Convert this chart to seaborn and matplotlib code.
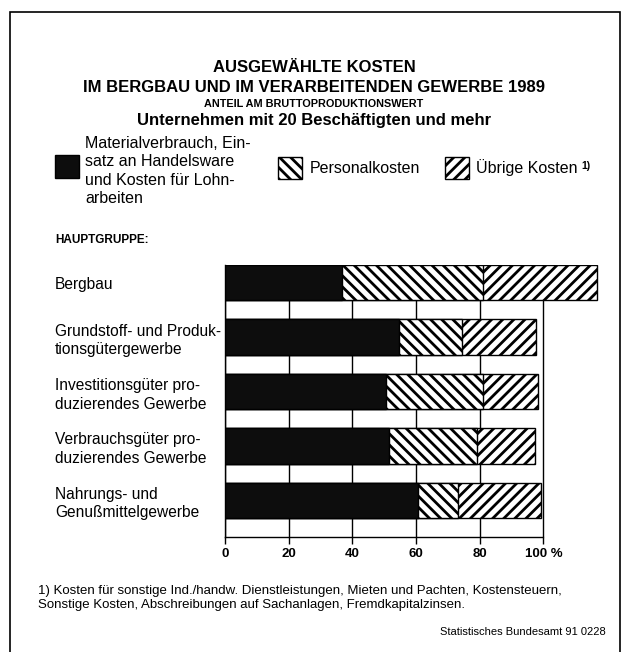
import numpy as np
import pandas as pd
import matplotlib
matplotlib.use('Agg')
import matplotlib.pyplot as plt
import seaborn as sns
from matplotlib.patches import Rectangle

sns.set_theme(style='white')
plt.rcParams['font.family'] = ['Liberation Sans', 'DejaVu Sans']
plt.rcParams['text.color'] = 'black'
plt.rcParams['hatch.linewidth'] = 2.0
plt.rcParams['hatch.color'] = 'black'

# Anteil am Bruttoproduktionswert in %
categories = ['Bergbau',
              'Grundstoff- und Produk-\ntionsgütergewerbe',
              'Investitionsgüter pro-\nduzierendes Gewerbe',
              'Verbrauchsgüter pro-\nduzierendes Gewerbe',
              'Nahrungs- und\nGenußmittelgewerbe']
material = [36.7, 54.8, 50.6, 51.4, 60.5]
personal = [44.3, 19.6, 30.4, 27.7, 12.7]
uebrige = [35.9, 23.4, 17.3, 18.4, 26.1]
xticks = [0, 20, 40, 60, 80, 100]
xticklabels = ['0', '20', '40', '60', '80', '100 %']

df = pd.DataFrame({'gruppe': categories, 'material': material,
                   'personal': personal, 'uebrige': uebrige})
df['bis_personal'] = df['material'] + df['personal']
df['gesamt'] = df['bis_personal'] + df['uebrige']

W, H = 628, 652
fig = plt.figure(figsize=(W / 100, H / 100), dpi=100)
fig.patch.set_facecolor('white')


def px(x, y):
    return x / W, 1 - y / H


ax = fig.add_axes([225 / W, 1 - 537 / H, (607 - 225) / W, (537 - 265) / H])

# stacked bars: draw the totals first, then cover with the shorter layers
layers = [('gesamt', 'white', '///'),
          ('bis_personal', 'white', '\\\\\\'),
          ('material', '#0d0d0d', None)]
for col, face, hatch in layers:
    n0 = len(ax.patches)
    sns.barplot(data=df, x=col, y='gruppe', orient='h', color=face, saturation=1,
                width=0.65, edgecolor='black', linewidth=1, ax=ax, zorder=3)
    if hatch:
        for p in ax.patches[n0:]:
            p.set_hatch(hatch)

ax.set_xlim(0, 120)
ax.set_ylim(4.675, -0.325)
ax.set_xlabel('')
ax.set_ylabel('')
ax.set_axisbelow(True)
ax.set_xticks(xticks, xticklabels)
ax.xaxis.grid(True, color='black', linewidth=1)
ax.yaxis.grid(False)
for s in ['top', 'right']:
    ax.spines[s].set_visible(False)
ax.spines['bottom'].set_bounds(0, 100)
for s in ['bottom', 'left']:
    ax.spines[s].set_color('black')
    ax.spines[s].set_linewidth(1)

ax.tick_params(axis='x', direction='out', length=5, width=1, color='black',
               bottom=True, labelsize=9.5, pad=3, labelcolor='black')
for t in ax.get_xticklabels():
    t.set_fontweight('bold')
ax.tick_params(axis='y', length=0, pad=122.4, labelsize=11.2, labelcolor='black')
for t in ax.get_yticklabels():
    t.set_horizontalalignment('left')
    t.set_linespacing(1.3)

# frame
fig.patches.append(Rectangle(px(10, 660), 610 / W, 648 / H, transform=fig.transFigure,
                             fill=False, edgecolor='black', linewidth=1.2))

# titles
fig.text(*px(314, 68), 'AUSGEWÄHLTE KOSTEN', ha='center', va='center',
         fontsize=12, fontweight='bold')
fig.text(*px(314, 87), 'IM BERGBAU UND IM VERARBEITENDEN GEWERBE 1989', ha='center',
         va='center', fontsize=12, fontweight='bold')
fig.text(*px(314, 104), 'ANTEIL AM BRUTTOPRODUKTIONSWERT', ha='center', va='center',
         fontsize=7.8, fontweight='bold')
fig.text(*px(314, 121), 'Unternehmen mit 20 Beschäftigten und mehr', ha='center',
         va='center', fontsize=12, fontweight='bold')

# legend
fig.patches.append(Rectangle(px(55, 178), 24 / W, 23 / H, transform=fig.transFigure,
                             facecolor='#0d0d0d', edgecolor='black', linewidth=1))
fig.text(*px(85, 171), 'Materialverbrauch, Ein-\nsatz an Handelsware\nund Kosten für Lohn-\narbeiten',
         ha='left', va='center', fontsize=11.5, linespacing=1.28)
fig.patches.append(Rectangle(px(278, 179), 24 / W, 22 / H, transform=fig.transFigure,
                             facecolor='white', edgecolor='black', linewidth=1,
                             hatch='\\\\\\'))
fig.text(*px(310, 168), 'Personalkosten', ha='left', va='center', fontsize=11.5)
fig.patches.append(Rectangle(px(445, 179), 24 / W, 22 / H, transform=fig.transFigure,
                             facecolor='white', edgecolor='black', linewidth=1,
                             hatch='///'))
leg3 = fig.text(*px(476, 168), 'Übrige Kosten', ha='left', va='center', fontsize=11.5)
ax.annotate('1)', xy=(1, 1), xycoords=leg3, xytext=(3, -1), textcoords='offset points',
            ha='left', va='top', fontsize=7.5, fontweight='bold', annotation_clip=False)

fig.text(*px(55, 240), 'HAUPTGRUPPE:', ha='left', va='center', fontsize=8.5,
         fontweight='bold')

# footnote and source
fig.text(*px(38, 598), '1) Kosten für sonstige Ind./handw. Dienstleistungen, Mieten und Pachten, Kostensteuern,\n'
         'Sonstige Kosten, Abschreibungen auf Sachanlagen, Fremdkapitalzinsen.',
         ha='left', va='center', fontsize=9.5, linespacing=1.2)
fig.text(*px(606, 632), 'Statistisches Bundesamt 91 0228', ha='right', va='center',
         fontsize=8)

fig.savefig('out.png', dpi=100, facecolor='white')
